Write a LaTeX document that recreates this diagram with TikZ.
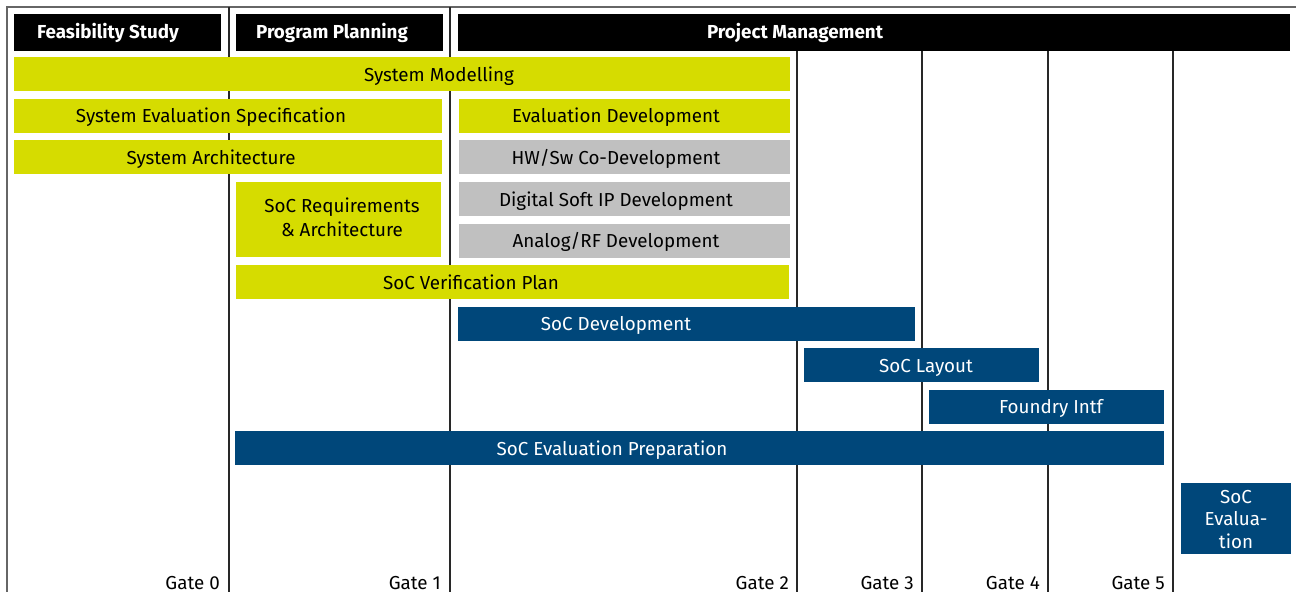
\documentclass[tikz,border=0pt]{standalone}
\usepackage{fontspec}
\setmainfont{Fira Sans}
\definecolor{ccyellow}{RGB}{214,220,0}
\definecolor{ccgray}{RGB}{192,192,192}
\definecolor{ccblue}{RGB}{0,71,122}
\definecolor{ccline}{RGB}{40,40,40}
\newcommand\mybx[6]{\node[#2, minimum width={#5pt-#3pt}, minimum height={#6pt-#4pt}] (#1) at (#3,#4) {};}
\tikzset{
  boxbase/.style={anchor=north west, inner sep=0pt, outer sep=0pt, draw=none},
  hbox/.style={boxbase, fill=black},
  ybox/.style={boxbase, fill=ccyellow},
  gbox/.style={boxbase, fill=ccgray},
  bbox/.style={boxbase, fill=ccblue},
  lbl/.style={anchor=base, inner sep=0pt, font=\fontsize{18.8}{22}\selectfont, text=black},
  wlbl/.style={lbl, text=white},
  hlbl/.style={lbl, text=white, font=\fontsize{18.8}{22}\selectfont\bfseries},
  gatelbl/.style={anchor=base east, inner sep=0pt, font=\fontsize{18.8}{22}\selectfont},
  gridline/.style={draw=ccline, line width=1.6pt},
  borderline/.style={draw=gray!80!black, line width=2.4pt},
}
\begin{document}
\begin{tikzpicture}[x=1pt,y=-1pt]
\useasboundingbox (0,0) rectangle (1296,592);
% frame and grid
\coordinate (tl) at (7,7);
\coordinate (tr) at (1296,7);
\coordinate (bl) at (7,592);
\draw[borderline] (tr) -- (tl) -- (bl);
\foreach \gx in {229,450} {\draw[gridline] (\gx,7) -- (\gx,592);}
\foreach \gx in {797,922,1048,1173} {\draw[gridline] (\gx,51) -- (\gx,592);}
% header
\mybx{fs}{hbox}{14}{14}{221}{51}
\mybx{pp}{hbox}{236}{14}{443}{51}
\mybx{pm}{hbox}{458}{14}{1290}{51}
\node[hlbl] at (108,38.5) {Feasibility Study};
\node[hlbl] at (332,38.5) {Program Planning};
\node[hlbl] at (795,38.5) {Project Management};
% yellow
\mybx{sm}{ybox}{14}{57}{790}{91}
\node[lbl] at (439,81) {System Modelling};
\mybx{ses}{ybox}{14}{99}{442}{133}
\node[lbl] at (211,122.5) {System Evaluation Specification};
\mybx{ed}{ybox}{459}{99}{790}{133}
\node[lbl] at (616,122.5) {Evaluation Development};
\mybx{sa}{ybox}{14}{140}{442}{174}
\node[lbl] at (211,164) {System Architecture};
\mybx{sr}{ybox}{236}{182}{441}{257}
\node[lbl] at (342,212.5) {SoC Requirements};
\node[lbl] at (342,236.5) {\& Architecture};
\mybx{svp}{ybox}{236}{265}{789}{299}
\node[lbl] at (471,289) {SoC Verification Plan};
% gray
\mybx{hw}{gbox}{459}{140}{790}{174}
\node[lbl] at (616,164) {HW/Sw Co-Development};
\mybx{dsip}{gbox}{459}{182}{790}{216}
\node[lbl] at (616,206) {Digital Soft IP Development};
\mybx{arf}{gbox}{459}{224}{790}{258}
\node[lbl] at (616,247.5) {Analog/RF Development};
% blue
\mybx{sd}{bbox}{458}{307}{915}{341}
\node[wlbl] at (616,330.5) {SoC Development};
\mybx{sl}{bbox}{804}{348}{1039}{382}
\node[wlbl] at (926,372) {SoC Layout};
\mybx{fi}{bbox}{929}{390}{1164}{424}
\node[wlbl] at (1051,413.5) {Foundry Intf};
\mybx{sep}{bbox}{235}{431}{1164}{465}
\node[wlbl] at (612,455) {SoC Evaluation Preparation};
\mybx{se}{bbox}{1181}{483}{1291}{554}
\node[wlbl] at (1236,503) {SoC};
\node[wlbl] at (1236,525.5) {Evalua-};
\node[wlbl] at (1236,548) {tion};
% gates
\node[gatelbl] at (220,589) {Gate 0};
\node[gatelbl] at (441,589) {Gate 1};
\node[gatelbl] at (789,589) {Gate 2};
\node[gatelbl] at (914,589) {Gate 3};
\node[gatelbl] at (1040,589) {Gate 4};
\node[gatelbl] at (1165,589) {Gate 5};
\end{tikzpicture}
\end{document}
